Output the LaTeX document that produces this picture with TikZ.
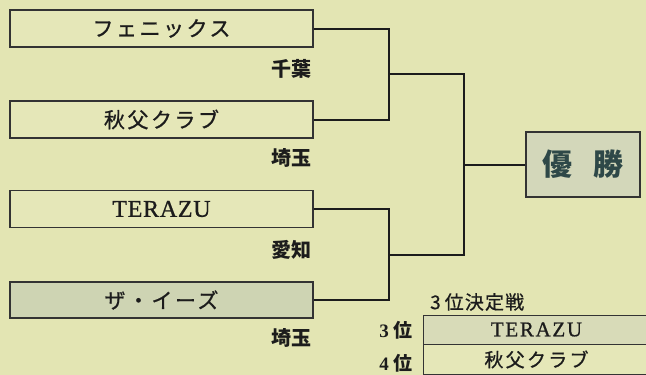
\documentclass[tikz,border=0pt]{standalone}
\usepackage{fontspec}
\setmainfont{Liberation Serif}
\newfontfamily\cjk{Noto Sans CJK JP}
\newfontfamily\cjksp[LetterSpace=12,FakeBold=1]{Noto Sans CJK JP}
\newfontfamily\cjkth[LetterSpace=6,FakeBold=0.6]{Noto Sans CJK JP}
\newfontfamily\serifbox[LetterSpace=3,FakeBold=0.8]{Liberation Serif}
\newfontfamily\seriftab[LetterSpace=8,FakeBold=0.8]{Liberation Serif}
\definecolor{bg}{HTML}{E3E5B3}
\definecolor{boxfill}{HTML}{E5E7B8}
\definecolor{greyfill}{HTML}{CED4B3}
\definecolor{winfill}{HTML}{D3D7BA}
\definecolor{rowone}{HTML}{D8DBB8}
\definecolor{ink}{HTML}{1C1C1C}
\definecolor{boxline}{HTML}{333333}
\definecolor{wintext}{HTML}{2E4848}
\begin{document}
\begin{tikzpicture}[x=1pt,y=-1pt,
  team/.style={draw=boxline, line width=1.3pt, minimum width=303pt, minimum height=37pt,
    inner sep=0pt, fill=boxfill, text=ink, font=\cjksp\fontsize{21}{21}\selectfont},
  conn/.style={draw=ink, line width=2pt},
  pref/.style={anchor=east, inner sep=0pt, text=ink, font=\cjk\bfseries\fontsize{20}{20}\selectfont},
  row/.style={draw=boxline, line width=1pt, minimum width=227pt, minimum height=29pt,
    inner sep=0pt, text=ink},
  rank/.style={anchor=east, inner sep=0pt, text=ink, font=\bfseries\fontsize{19}{19}\selectfont}
]
\useasboundingbox (0,0) rectangle (646,375);
\fill[bg] (0,0) rectangle (646,375);

% team boxes
\node[team] (t1) at (161.5,28.5) {フェニックス};
\node[team] (t2) at (161.5,119.5) {秋父クラブ};
\node[team, font=\serifbox\fontsize{24}{24}\selectfont] (t3) at (161.5,209) {TERAZU};
\node[team, fill=greyfill, minimum height=36pt] (t4) at (161.5,300) {ザ・イーズ};

% prefectures
\node[pref] (p1) at (312,69) {千葉};
\node[pref] (p2) at (312,158) {埼玉};
\node[pref] (p3) at (312,250) {愛知};
\node[pref] (p4) at (312,338) {埼玉};

% winner box
\node[draw=boxline, line width=1.3pt, fill=winfill, minimum width=114pt, minimum height=65pt,
  inner sep=0pt, text=wintext, font=\cjk\bfseries\fontsize{30}{30}\selectfont]
  (win) at (583,164.5) {優\hspace{22pt}勝};

% connectors
\coordinate (m1) at (389,74);
\coordinate (m2) at (389,254.5);
\coordinate (f) at (464,164.5);
\draw[conn] (t1.east) -| (m1) |- (t2.east);
\draw[conn] (t3.east) -| (m2) |- (t4.east);
\draw[conn] (m1) -| (f);
\draw[conn] (m2) -| (f);
\draw[conn] (f) -- (win.west);

% third place match
\node[anchor=west, inner sep=0pt, text=ink, font=\cjkth\fontsize{19}{19}\selectfont]
  (tp) at (430,302) {3\hspace{4pt}位決定戦};
\node[row, fill=rowone, font=\seriftab\fontsize{21}{21}\selectfont] (r1) at (536.5,329.5) {TERAZU};
\node[row, fill=boxfill, minimum height=30pt, font=\cjksp\fontsize{19}{19}\selectfont] (r2) at (536.5,359.5) {秋父クラブ};
\node[rank] (k1) at (413,330) {3\hspace{5pt}{\cjk 位}};
\node[rank] (k2) at (413,363) {4\hspace{5pt}{\cjk 位}};
\end{tikzpicture}
\end{document}
